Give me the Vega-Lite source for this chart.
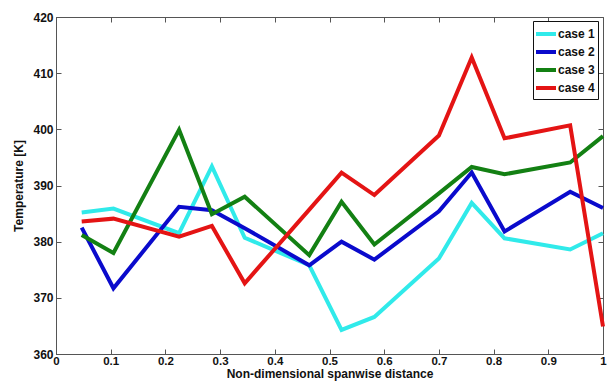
{
  "$schema": "https://vega.github.io/schema/vega-lite/v6.json",
  "width": 547,
  "height": 337,
  "autosize": {"type": "none"},
  "padding": {"left": 56, "top": 17, "right": 7, "bottom": 29},
  "background": "white",
  "data": {
    "values": [
      {"x": 0.047, "T": 385.2, "case": "case 1"},
      {"x": 0.105, "T": 385.9, "case": "case 1"},
      {"x": 0.225, "T": 381.5, "case": "case 1"},
      {"x": 0.285, "T": 393.4, "case": "case 1"},
      {"x": 0.345, "T": 380.7, "case": "case 1"},
      {"x": 0.463, "T": 375.8, "case": "case 1"},
      {"x": 0.522, "T": 364.3, "case": "case 1"},
      {"x": 0.582, "T": 366.6, "case": "case 1"},
      {"x": 0.700, "T": 377.0, "case": "case 1"},
      {"x": 0.760, "T": 386.9, "case": "case 1"},
      {"x": 0.820, "T": 380.6, "case": "case 1"},
      {"x": 0.940, "T": 378.6, "case": "case 1"},
      {"x": 1.000, "T": 381.5, "case": "case 1"},
      {"x": 0.047, "T": 382.5, "case": "case 2"},
      {"x": 0.105, "T": 371.7, "case": "case 2"},
      {"x": 0.225, "T": 386.2, "case": "case 2"},
      {"x": 0.285, "T": 385.6, "case": "case 2"},
      {"x": 0.345, "T": 382.4, "case": "case 2"},
      {"x": 0.463, "T": 375.8, "case": "case 2"},
      {"x": 0.522, "T": 380.0, "case": "case 2"},
      {"x": 0.582, "T": 376.8, "case": "case 2"},
      {"x": 0.700, "T": 385.4, "case": "case 2"},
      {"x": 0.760, "T": 392.3, "case": "case 2"},
      {"x": 0.820, "T": 381.8, "case": "case 2"},
      {"x": 0.940, "T": 388.9, "case": "case 2"},
      {"x": 1.000, "T": 386.0, "case": "case 2"},
      {"x": 0.047, "T": 381.2, "case": "case 3"},
      {"x": 0.105, "T": 378.0, "case": "case 3"},
      {"x": 0.225, "T": 399.9, "case": "case 3"},
      {"x": 0.285, "T": 384.9, "case": "case 3"},
      {"x": 0.345, "T": 388.0, "case": "case 3"},
      {"x": 0.463, "T": 377.6, "case": "case 3"},
      {"x": 0.522, "T": 387.1, "case": "case 3"},
      {"x": 0.582, "T": 379.5, "case": "case 3"},
      {"x": 0.700, "T": 388.6, "case": "case 3"},
      {"x": 0.760, "T": 393.3, "case": "case 3"},
      {"x": 0.820, "T": 392.0, "case": "case 3"},
      {"x": 0.940, "T": 394.1, "case": "case 3"},
      {"x": 1.000, "T": 398.8, "case": "case 3"},
      {"x": 0.047, "T": 383.6, "case": "case 4"},
      {"x": 0.105, "T": 384.1, "case": "case 4"},
      {"x": 0.225, "T": 380.9, "case": "case 4"},
      {"x": 0.285, "T": 382.8, "case": "case 4"},
      {"x": 0.345, "T": 372.6, "case": "case 4"},
      {"x": 0.463, "T": 385.7, "case": "case 4"},
      {"x": 0.522, "T": 392.3, "case": "case 4"},
      {"x": 0.582, "T": 388.3, "case": "case 4"},
      {"x": 0.700, "T": 398.9, "case": "case 4"},
      {"x": 0.760, "T": 412.8, "case": "case 4"},
      {"x": 0.820, "T": 398.4, "case": "case 4"},
      {"x": 0.940, "T": 400.7, "case": "case 4"},
      {"x": 1.000, "T": 364.9, "case": "case 4"}
    ]
  },
  "config": {
    "view": {"stroke": "#555555", "strokeWidth": 1},
    "font": "Liberation Sans",
    "axis": {
      "grid": false,
      "domainColor": "#555555",
      "tickColor": "#555555",
      "labelFont": "Liberation Sans",
      "labelFontWeight": "bold",
      "labelFontSize": 12,
      "labelColor": "#111111",
      "titleFont": "Liberation Sans",
      "titleFontWeight": "bold",
      "titleFontSize": 12,
      "titleColor": "#111111"
    }
  },
  "layer": [
    {
      "mark": {"type": "line", "strokeWidth": 4, "strokeJoin": "miter"},
      "encoding": {
        "x": {
          "field": "x", "type": "quantitative",
          "scale": {"domain": [0, 1], "nice": false, "zero": false},
          "axis": {
            "orient": "bottom",
            "values": [0, 0.1, 0.2, 0.3, 0.4, 0.5, 0.6, 0.7, 0.8, 0.9, 1],
            "format": "~g",
            "tickSize": -5,
            "labelPadding": 6,
            "labelFontSize": 11.5,
            "labelFlush": false,
            "title": "Non-dimensional spanwise distance",
            "titlePadding": 2
          }
        },
        "y": {
          "field": "T", "type": "quantitative",
          "scale": {"domain": [360, 420], "nice": false, "zero": false},
          "axis": {
            "orient": "left",
            "values": [360, 370, 380, 390, 400, 410, 420],
            "tickSize": -5,
            "labelPadding": 8,
            "labelFlush": false,
            "title": "Temperature [K]",
            "titlePadding": 7
          }
        },
        "color": {
          "field": "case", "type": "nominal",
          "scale": {
            "domain": ["case 1", "case 2", "case 3", "case 4"],
            "range": ["#30eaea", "#0a0acc", "#138013", "#e41414"]
          },
          "legend": {
            "title": null,
            "orient": "none",
            "legendX": 477,
            "legendY": 4,
            "direction": "vertical",
            "symbolType": "M-1.25,0H1.25",
            "symbolSize": 256,
            "symbolStrokeWidth": 4,
            "rowPadding": 0,
            "labelFont": "Liberation Sans",
            "labelFontWeight": "bold",
            "labelFontSize": 12,
            "labelColor": "#111111",
            "labelOffset": 2,
            "fillColor": "white",
            "strokeColor": "#111111",
            "padding": 3
          }
        }
      }
    },
    {
      "mark": {"type": "point", "opacity": 0},
      "encoding": {
        "x": {
          "field": "x", "type": "quantitative",
          "axis": {
            "orient": "top",
            "values": [0, 0.1, 0.2, 0.3, 0.4, 0.5, 0.6, 0.7, 0.8, 0.9, 1],
            "tickSize": -5,
            "labels": false,
            "domain": false,
            "title": null
          }
        },
        "y": {
          "field": "T", "type": "quantitative",
          "axis": {
            "orient": "right",
            "values": [360, 370, 380, 390, 400, 410, 420],
            "tickSize": -5,
            "labels": false,
            "domain": false,
            "title": null
          }
        }
      }
    }
  ],
  "resolve": {"axis": {"x": "independent", "y": "independent"}}
}
